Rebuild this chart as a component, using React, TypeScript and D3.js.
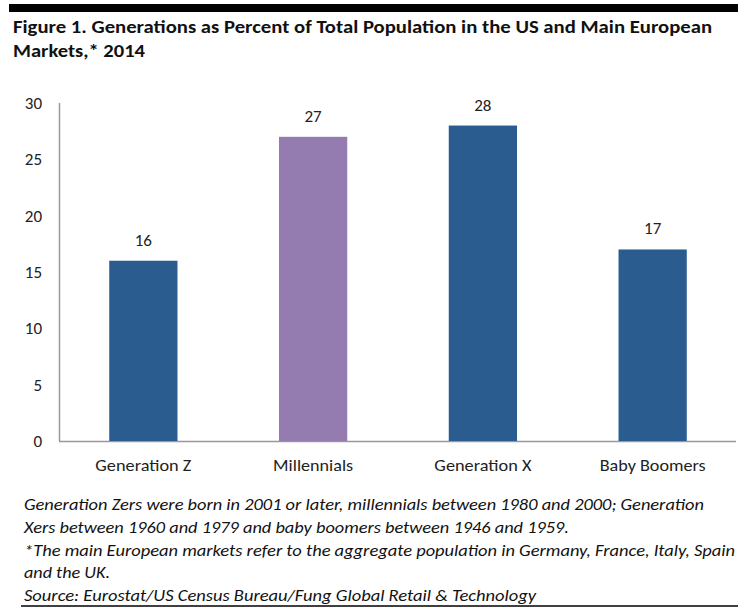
import React from "react";
import * as d3 from "d3";

const categories = ["Generation Z", "Millennials", "Generation X", "Baby Boomers"];
const values = [16, 27, 28, 17];
const barColors = ["#2A5C8F", "#957CB0", "#2A5C8F", "#2A5C8F"];
const yTicks = [0, 5, 10, 15, 20, 25, 30];
const titleLines = [
  "Figure 1. Generations as Percent of Total Population in the US and Main European",
  "Markets,* 2014",
];
const noteLines = [
  "Generation Zers were born in 2001 or later, millennials between 1980 and 2000; Generation",
  "Xers between 1960 and 1979 and baby boomers between 1946 and 1959.",
  "*The main European markets refer to the aggregate population in Germany, France, Italy, Spain",
  "and the UK.",
  "Source: Eurostat/US Census Bureau/Fung Global Retail & Technology",
];

const W = 750;
const H = 615;
const FONT = "Carlito, Lato, 'Open Sans', sans-serif";

export default function App() {
  const x = d3
    .scaleBand<string>()
    .domain(categories)
    .range([60, 736])
    .paddingInner(0.598)
    .paddingOuter(0.29);
  const y = d3.scaleLinear().domain([0, 30]).range([441, 103]);

  const titleLens = [699, 132];
  const noteLens = [680, 545, 711, 86, 512];
  const noteBase = [510, 533, 556, 578, 601];
  const catLens = [96, 80, 97, 106];

  return (
    <svg
      width={W}
      height={H}
      style={{ position: "absolute", left: 0, top: 0, background: "#fff" }}
      fontFamily={FONT}
    >
      <rect x={0} y={0} width={W} height={H} fill="#fff" />
      <rect x={9} y={4} width={729} height={8} fill="#000" />
      {titleLines.map((t, i) => (
        <text
          key={i}
          x={13}
          y={33 + i * 24}
          fontSize={18.5}
          fontWeight="bold"
          fill="#111"
          textLength={titleLens[i]}
          lengthAdjust="spacingAndGlyphs"
        >
          {t}
        </text>
      ))}

      {/* axes */}
      <line x1={59.5} x2={59.5} y1={y(30)} y2={y(0)} stroke="#999" strokeWidth={1.5} />
      <line x1={59} x2={736} y1={y(0) + 0.5} y2={y(0) + 0.5} stroke="#999" strokeWidth={1.5} />
      {yTicks.map((t) => (
        <text
          key={t}
          x={42}
          y={y(t)}
          dy="0.35em"
          textAnchor="end"
          fontSize={17}
          fill="#222"
        >
          {t}
        </text>
      ))}

      {/* bars */}
      {categories.map((c, i) => (
        <g key={c}>
          <rect
            x={x(c)}
            y={y(values[i])}
            width={x.bandwidth()}
            height={y(0) - y(values[i])}
            fill={barColors[i]}
          />
          <text
            x={(x(c) as number) + x.bandwidth() / 2}
            y={y(values[i]) - 15}
            textAnchor="middle"
            fontSize={17}
            fill="#222"
          >
            {values[i]}
          </text>
          <text
            x={(x(c) as number) + x.bandwidth() / 2}
            y={471}
            textAnchor="middle"
            fontSize={17}
            fill="#222"
            textLength={catLens[i]}
            lengthAdjust="spacingAndGlyphs"
          >
            {c}
          </text>
        </g>
      ))}

      {noteLines.map((t, i) => (
        <text
          key={i}
          x={24}
          y={noteBase[i]}
          fontSize={16.5}
          fontStyle="italic"
          fill="#111"
          textLength={noteLens[i]}
          lengthAdjust="spacingAndGlyphs"
        >
          {t}
        </text>
      ))}
      <line x1={21} x2={738} y1={606} y2={606} stroke="#000" strokeWidth={1.5} />
    </svg>
  );
}
